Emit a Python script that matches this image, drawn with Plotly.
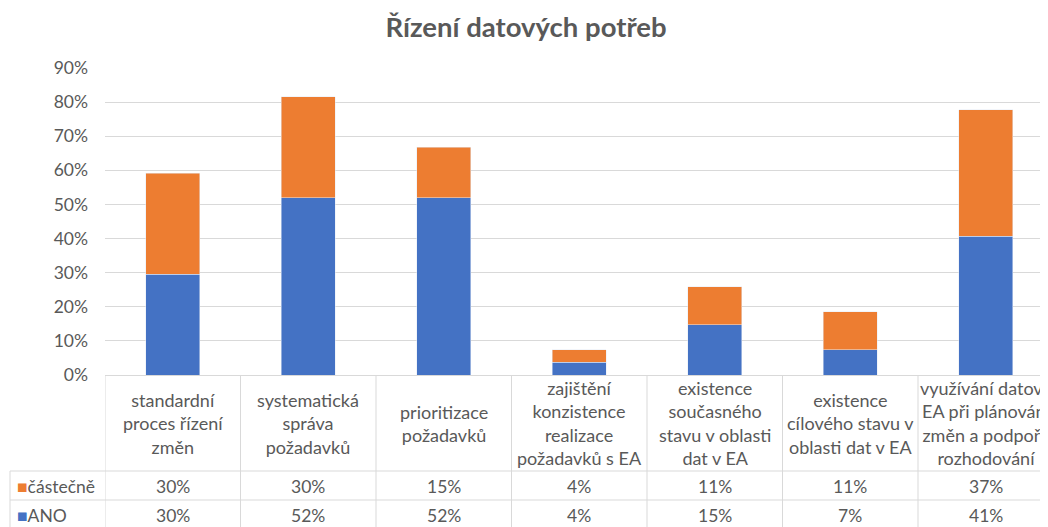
import plotly.graph_objects as go

# --- data ---
categories = [
    "standardní<br>proces řízení<br>změn",
    "systematická<br>správa<br>požadavků",
    "prioritizace<br>požadavků",
    "zajištění<br>konzistence<br>realizace<br>požadavků s EA",
    "existence<br>současného<br>stavu v oblasti<br>dat v EA",
    "existence<br>cílového stavu v<br>oblasti dat v EA",
    "využívání datové<br>EA při plánování<br>změn a podpoře<br>rozhodování",
]
ano = [0.296, 0.519, 0.519, 0.037, 0.148, 0.074, 0.407]
castecne = [0.296, 0.296, 0.148, 0.037, 0.111, 0.111, 0.370]
series_names = ["částečně", "ANO"]
y_ticks = [0, 0.1, 0.2, 0.3, 0.4, 0.5, 0.6, 0.7, 0.8, 0.9]

BLUE = "#4472C4"
ORANGE = "#ED7D31"
GRID = "#D9D9D9"
TXT = "#595959"
FONT = "Lato"
FS = 17.5

OFF = 8  # page body margin
W, H = 1048 - OFF, 527 - OFF
ML, MT = 105 - OFF, 68 - OFF
MB = H - (375 - OFF)
plot_h = H - MT - MB
plot_w = W - ML
CAT_W = 135.5  # screen px per category


def py(p):
    # screen pixel row -> paper y
    return (H - MB - (p - OFF)) / plot_h


def px(p):
    # screen pixel column -> paper x
    return (p - OFF - ML) / plot_w


x = list(range(len(categories)))

fig = go.Figure()
fig.add_trace(go.Bar(x=x, y=ano, name=series_names[1], marker_color=BLUE))
fig.add_trace(go.Bar(x=x, y=castecne, name=series_names[0], marker_color=ORANGE))

shapes = []
annotations = []

# data-table grid
for i in range(len(categories)):
    shapes.append(dict(type="line", xref="x", yref="paper", x0=i - 0.5, x1=i - 0.5,
                       y0=0, y1=py(540), line=dict(color=GRID, width=1)))
for row_y in [471, 500]:
    shapes.append(dict(type="line", xref="paper", yref="paper", x0=px(10), x1=1.01,
                       y0=py(row_y), y1=py(row_y), line=dict(color=GRID, width=1)))
shapes.append(dict(type="line", xref="paper", yref="paper", x0=px(10), x1=px(10),
                   y0=py(471), y1=py(540), line=dict(color=GRID, width=1)))

# header labels and values
for i, cat in enumerate(categories):
    annotations.append(dict(x=i, xref="x", y=py(423), yref="paper", text=cat,
                            showarrow=False, yanchor="middle",
                            font=dict(size=18, color=TXT, family=FONT)))
    annotations.append(dict(x=i, xref="x", y=py(486), yref="paper",
                            text=f"{castecne[i]:.0%}", showarrow=False, yanchor="middle",
                            font=dict(size=FS, color=TXT, family=FONT)))
    annotations.append(dict(x=i, xref="x", y=py(515), yref="paper",
                            text=f"{ano[i]:.0%}", showarrow=False, yanchor="middle",
                            font=dict(size=FS, color=TXT, family=FONT)))

# legend keys in table
for name, color, row in [(series_names[0], ORANGE, 486), (series_names[1], BLUE, 515)]:
    annotations.append(dict(x=px(15), xref="paper", y=py(row), yref="paper",
                            text=f"<span style='color:{color}'>■</span>{name}",
                            showarrow=False, xanchor="left", yanchor="middle",
                            font=dict(size=FS, color=TXT, family=FONT)))

fig.update_layout(
    width=W, height=H,
    barmode="stack",
    bargap=0.6,
    showlegend=False,
    plot_bgcolor="white",
    paper_bgcolor="white",
    margin=dict(l=ML, r=0, t=MT, b=MB, autoexpand=False),
    title=dict(text="<b>Řízení datových potřeb</b>", x=(526 - OFF) / W, xref="container",
               y=1 - (27 - OFF) / H, yref="container", yanchor="middle", xanchor="center",
               font=dict(size=27.5, color=TXT, family=FONT)),
    xaxis=dict(range=[-0.5, -0.5 + plot_w / CAT_W], showticklabels=False, showgrid=False,
               zeroline=False, showline=True, linecolor=GRID, linewidth=1,
               automargin=False),
    yaxis=dict(range=[0, 0.9], tickvals=y_ticks, tickformat=".0%",
               showgrid=True, gridcolor=GRID, gridwidth=1, zeroline=False,
               ticklabelstandoff=16, automargin=False,
               tickfont=dict(size=FS, color=TXT, family=FONT)),
    shapes=shapes,
    annotations=annotations,
)

fig.write_html("out.html")
